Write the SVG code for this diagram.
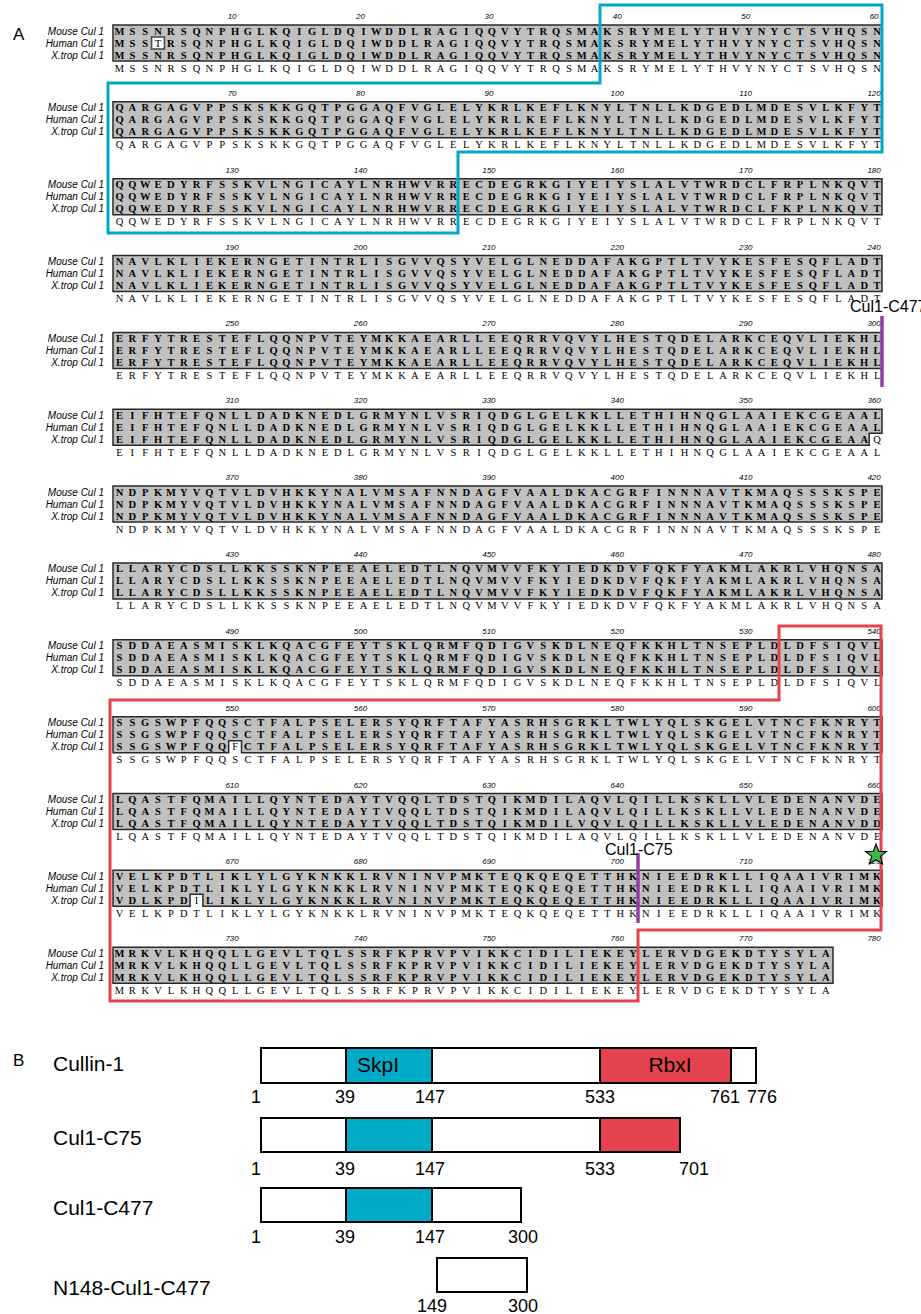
<svg xmlns="http://www.w3.org/2000/svg" width="921" height="1314" viewBox="0 0 921 1314">
<style>
.lbl{font:italic 10px "Liberation Sans",sans-serif;text-anchor:end}
.num{font:italic 8px "Liberation Sans",sans-serif;text-anchor:middle}
.res{font:bold 10.5px "Liberation Serif",serif;text-anchor:middle}
.con{font:10.5px "Liberation Serif",serif;text-anchor:middle}
.nb{font-weight:normal}
.box{fill:#c0c0c0;stroke:#2a2a2a;stroke-width:1.5}
.cell{fill:#fff;stroke:#444;stroke-width:1.5}
.cy{fill:none;stroke:#00a8c8;stroke-width:3}
.rd{fill:none;stroke:#e4444e;stroke-width:3}
.pu{stroke:#913d9e;stroke-width:3.5}
.big{font:17px "Liberation Sans",sans-serif}
.cap{font:16px "Liberation Sans",sans-serif}
.bl{font:21px "Liberation Sans",sans-serif}
.bn{font:18px "Liberation Sans",sans-serif;text-anchor:middle}
.bar{fill:#fff;stroke:#000;stroke-width:2}
.sk{fill:#00abc7;stroke:#000;stroke-width:2}
.rb{fill:#e4434d;stroke:#000;stroke-width:2}
</style>
<text x="13" y="40" class="big">A</text>

<g id="block1" transform="translate(0,0)">
<path class="box" d="M113,25H882V61H113Z"/>
<rect class="cell" x="151.6" y="37" width="12.8" height="12"/>
<text class="lbl" x="104" y="34.5">Mouse Cul 1</text><text class="lbl" x="104" y="46.5">Human Cul 1</text><text class="lbl" x="104" y="58.5">X.trop Cul 1</text>
<text class="num" y="19"><tspan x="232.1">10</tspan><tspan x="360.5">20</tspan><tspan x="488.9">30</tspan><tspan x="617.3">40</tspan><tspan x="745.7">50</tspan><tspan x="874.1">60</tspan></text>
<text class="res" y="34.5" x="119.5 132.3 145.2 158 170.9 183.7 196.5 209.4 222.2 235.1 247.9 260.7 273.6 286.4 299.3 312.1 324.9 337.8 350.6 363.5 376.3 389.1 402 414.8 427.7 440.5 453.3 466.2 479 491.9 504.7 517.5 530.4 543.2 556.1 568.9 581.7 594.6 607.4 620.3 633.1 645.9 658.8 671.6 684.5 697.3 710.1 723 735.8 748.7 761.5 774.3 787.2 800 812.9 825.7 838.5 851.4 864.2 877.1">MSSNRSQNPHGLKQIGLDQIWDDLRAGIQQVYTRQSMAKSRYMELYTHVYNYCTSVHQSN</text>
<text class="res" y="46.5" x="119.5 132.3 145.2 158 170.9 183.7 196.5 209.4 222.2 235.1 247.9 260.7 273.6 286.4 299.3 312.1 324.9 337.8 350.6 363.5 376.3 389.1 402 414.8 427.7 440.5 453.3 466.2 479 491.9 504.7 517.5 530.4 543.2 556.1 568.9 581.7 594.6 607.4 620.3 633.1 645.9 658.8 671.6 684.5 697.3 710.1 723 735.8 748.7 761.5 774.3 787.2 800 812.9 825.7 838.5 851.4 864.2 877.1">MSS<tspan class="nb">T</tspan>RSQNPHGLKQIGLDQIWDDLRAGIQQVYTRQSMAKSRYMELYTHVYNYCTSVHQSN</text>
<text class="res" y="58.5" x="119.5 132.3 145.2 158 170.9 183.7 196.5 209.4 222.2 235.1 247.9 260.7 273.6 286.4 299.3 312.1 324.9 337.8 350.6 363.5 376.3 389.1 402 414.8 427.7 440.5 453.3 466.2 479 491.9 504.7 517.5 530.4 543.2 556.1 568.9 581.7 594.6 607.4 620.3 633.1 645.9 658.8 671.6 684.5 697.3 710.1 723 735.8 748.7 761.5 774.3 787.2 800 812.9 825.7 838.5 851.4 864.2 877.1">MSSNRSQNPHGLKQIGLDQIWDDLRAGIQQVYTRQSMAKSRYMELYTHVYNYCTSVHQSN</text>
<text class="con" y="71.5" x="119.5 132.3 145.2 158 170.9 183.7 196.5 209.4 222.2 235.1 247.9 260.7 273.6 286.4 299.3 312.1 324.9 337.8 350.6 363.5 376.3 389.1 402 414.8 427.7 440.5 453.3 466.2 479 491.9 504.7 517.5 530.4 543.2 556.1 568.9 581.7 594.6 607.4 620.3 633.1 645.9 658.8 671.6 684.5 697.3 710.1 723 735.8 748.7 761.5 774.3 787.2 800 812.9 825.7 838.5 851.4 864.2 877.1">MSSNRSQNPHGLKQIGLDQIWDDLRAGIQQVYTRQSMAKSRYMELYTHVYNYCTSVHQSN</text>
</g>

<g id="block2" transform="translate(0,76.85)">
<path class="box" d="M113,25H882V61H113Z"/>
<text class="lbl" x="104" y="34.5">Mouse Cul 1</text><text class="lbl" x="104" y="46.5">Human Cul 1</text><text class="lbl" x="104" y="58.5">X.trop Cul 1</text>
<text class="num" y="19"><tspan x="232.1">70</tspan><tspan x="360.5">80</tspan><tspan x="488.9">90</tspan><tspan x="617.3">100</tspan><tspan x="745.7">110</tspan><tspan x="874.1">120</tspan></text>
<text class="res" y="34.5" x="119.5 132.3 145.2 158 170.9 183.7 196.5 209.4 222.2 235.1 247.9 260.7 273.6 286.4 299.3 312.1 324.9 337.8 350.6 363.5 376.3 389.1 402 414.8 427.7 440.5 453.3 466.2 479 491.9 504.7 517.5 530.4 543.2 556.1 568.9 581.7 594.6 607.4 620.3 633.1 645.9 658.8 671.6 684.5 697.3 710.1 723 735.8 748.7 761.5 774.3 787.2 800 812.9 825.7 838.5 851.4 864.2 877.1">QARGAGVPPSKSKKGQTPGGAQFVGLELYKRLKEFLKNYLTNLLKDGEDLMDESVLKFYT</text>
<text class="res" y="46.5" x="119.5 132.3 145.2 158 170.9 183.7 196.5 209.4 222.2 235.1 247.9 260.7 273.6 286.4 299.3 312.1 324.9 337.8 350.6 363.5 376.3 389.1 402 414.8 427.7 440.5 453.3 466.2 479 491.9 504.7 517.5 530.4 543.2 556.1 568.9 581.7 594.6 607.4 620.3 633.1 645.9 658.8 671.6 684.5 697.3 710.1 723 735.8 748.7 761.5 774.3 787.2 800 812.9 825.7 838.5 851.4 864.2 877.1">QARGAGVPPSKSKKGQTPGGAQFVGLELYKRLKEFLKNYLTNLLKDGEDLMDESVLKFYT</text>
<text class="res" y="58.5" x="119.5 132.3 145.2 158 170.9 183.7 196.5 209.4 222.2 235.1 247.9 260.7 273.6 286.4 299.3 312.1 324.9 337.8 350.6 363.5 376.3 389.1 402 414.8 427.7 440.5 453.3 466.2 479 491.9 504.7 517.5 530.4 543.2 556.1 568.9 581.7 594.6 607.4 620.3 633.1 645.9 658.8 671.6 684.5 697.3 710.1 723 735.8 748.7 761.5 774.3 787.2 800 812.9 825.7 838.5 851.4 864.2 877.1">QARGAGVPPSKSKKGQTPGGAQFVGLELYKRLKEFLKNYLTNLLKDGEDLMDESVLKFYT</text>
<text class="con" y="71.5" x="119.5 132.3 145.2 158 170.9 183.7 196.5 209.4 222.2 235.1 247.9 260.7 273.6 286.4 299.3 312.1 324.9 337.8 350.6 363.5 376.3 389.1 402 414.8 427.7 440.5 453.3 466.2 479 491.9 504.7 517.5 530.4 543.2 556.1 568.9 581.7 594.6 607.4 620.3 633.1 645.9 658.8 671.6 684.5 697.3 710.1 723 735.8 748.7 761.5 774.3 787.2 800 812.9 825.7 838.5 851.4 864.2 877.1">QARGAGVPPSKSKKGQTPGGAQFVGLELYKRLKEFLKNYLTNLLKDGEDLMDESVLKFYT</text>
</g>

<g id="block3" transform="translate(0,153.7)">
<path class="box" d="M113,25H882V61H113Z"/>
<text class="lbl" x="104" y="34.5">Mouse Cul 1</text><text class="lbl" x="104" y="46.5">Human Cul 1</text><text class="lbl" x="104" y="58.5">X.trop Cul 1</text>
<text class="num" y="19"><tspan x="232.1">130</tspan><tspan x="360.5">140</tspan><tspan x="488.9">150</tspan><tspan x="617.3">160</tspan><tspan x="745.7">170</tspan><tspan x="874.1">180</tspan></text>
<text class="res" y="34.5" x="119.5 132.3 145.2 158 170.9 183.7 196.5 209.4 222.2 235.1 247.9 260.7 273.6 286.4 299.3 312.1 324.9 337.8 350.6 363.5 376.3 389.1 402 414.8 427.7 440.5 453.3 466.2 479 491.9 504.7 517.5 530.4 543.2 556.1 568.9 581.7 594.6 607.4 620.3 633.1 645.9 658.8 671.6 684.5 697.3 710.1 723 735.8 748.7 761.5 774.3 787.2 800 812.9 825.7 838.5 851.4 864.2 877.1">QQWEDYRFSSKVLNGICAYLNRHWVRRECDEGRKGIYEIYSLALVTWRDCLFRPLNKQVT</text>
<text class="res" y="46.5" x="119.5 132.3 145.2 158 170.9 183.7 196.5 209.4 222.2 235.1 247.9 260.7 273.6 286.4 299.3 312.1 324.9 337.8 350.6 363.5 376.3 389.1 402 414.8 427.7 440.5 453.3 466.2 479 491.9 504.7 517.5 530.4 543.2 556.1 568.9 581.7 594.6 607.4 620.3 633.1 645.9 658.8 671.6 684.5 697.3 710.1 723 735.8 748.7 761.5 774.3 787.2 800 812.9 825.7 838.5 851.4 864.2 877.1">QQWEDYRFSSKVLNGICAYLNRHWVRRECDEGRKGIYEIYSLALVTWRDCLFRPLNKQVT</text>
<text class="res" y="58.5" x="119.5 132.3 145.2 158 170.9 183.7 196.5 209.4 222.2 235.1 247.9 260.7 273.6 286.4 299.3 312.1 324.9 337.8 350.6 363.5 376.3 389.1 402 414.8 427.7 440.5 453.3 466.2 479 491.9 504.7 517.5 530.4 543.2 556.1 568.9 581.7 594.6 607.4 620.3 633.1 645.9 658.8 671.6 684.5 697.3 710.1 723 735.8 748.7 761.5 774.3 787.2 800 812.9 825.7 838.5 851.4 864.2 877.1">QQWEDYRFSSKVLNGICAYLNRHWVRRECDEGRKGIYEIYSLALVTWRDCLFKPLNKQVT</text>
<text class="con" y="71.5" x="119.5 132.3 145.2 158 170.9 183.7 196.5 209.4 222.2 235.1 247.9 260.7 273.6 286.4 299.3 312.1 324.9 337.8 350.6 363.5 376.3 389.1 402 414.8 427.7 440.5 453.3 466.2 479 491.9 504.7 517.5 530.4 543.2 556.1 568.9 581.7 594.6 607.4 620.3 633.1 645.9 658.8 671.6 684.5 697.3 710.1 723 735.8 748.7 761.5 774.3 787.2 800 812.9 825.7 838.5 851.4 864.2 877.1">QQWEDYRFSSKVLNGICAYLNRHWVRRECDEGRKGIYEIYSLALVTWRDCLFRPLNKQVT</text>
</g>

<g id="block4" transform="translate(0,230.55)">
<path class="box" d="M113,25H882V61H113Z"/>
<text class="lbl" x="104" y="34.5">Mouse Cul 1</text><text class="lbl" x="104" y="46.5">Human Cul 1</text><text class="lbl" x="104" y="58.5">X.trop Cul 1</text>
<text class="num" y="19"><tspan x="232.1">190</tspan><tspan x="360.5">200</tspan><tspan x="488.9">210</tspan><tspan x="617.3">220</tspan><tspan x="745.7">230</tspan><tspan x="874.1">240</tspan></text>
<text class="res" y="34.5" x="119.5 132.3 145.2 158 170.9 183.7 196.5 209.4 222.2 235.1 247.9 260.7 273.6 286.4 299.3 312.1 324.9 337.8 350.6 363.5 376.3 389.1 402 414.8 427.7 440.5 453.3 466.2 479 491.9 504.7 517.5 530.4 543.2 556.1 568.9 581.7 594.6 607.4 620.3 633.1 645.9 658.8 671.6 684.5 697.3 710.1 723 735.8 748.7 761.5 774.3 787.2 800 812.9 825.7 838.5 851.4 864.2 877.1">NAVLKLIEKERNGETINTRLISGVVQSYVELGLNEDDAFAKGPTLTVYKESFESQFLADT</text>
<text class="res" y="46.5" x="119.5 132.3 145.2 158 170.9 183.7 196.5 209.4 222.2 235.1 247.9 260.7 273.6 286.4 299.3 312.1 324.9 337.8 350.6 363.5 376.3 389.1 402 414.8 427.7 440.5 453.3 466.2 479 491.9 504.7 517.5 530.4 543.2 556.1 568.9 581.7 594.6 607.4 620.3 633.1 645.9 658.8 671.6 684.5 697.3 710.1 723 735.8 748.7 761.5 774.3 787.2 800 812.9 825.7 838.5 851.4 864.2 877.1">NAVLKLIEKERNGETINTRLISGVVQSYVELGLNEDDAFAKGPTLTVYKESFESQFLADT</text>
<text class="res" y="58.5" x="119.5 132.3 145.2 158 170.9 183.7 196.5 209.4 222.2 235.1 247.9 260.7 273.6 286.4 299.3 312.1 324.9 337.8 350.6 363.5 376.3 389.1 402 414.8 427.7 440.5 453.3 466.2 479 491.9 504.7 517.5 530.4 543.2 556.1 568.9 581.7 594.6 607.4 620.3 633.1 645.9 658.8 671.6 684.5 697.3 710.1 723 735.8 748.7 761.5 774.3 787.2 800 812.9 825.7 838.5 851.4 864.2 877.1">NAVLKLIEKERNGETINTRLISGVVQSYVELGLNEDDAFAKGPTLTVYKESFESQFLADT</text>
<text class="con" y="71.5" x="119.5 132.3 145.2 158 170.9 183.7 196.5 209.4 222.2 235.1 247.9 260.7 273.6 286.4 299.3 312.1 324.9 337.8 350.6 363.5 376.3 389.1 402 414.8 427.7 440.5 453.3 466.2 479 491.9 504.7 517.5 530.4 543.2 556.1 568.9 581.7 594.6 607.4 620.3 633.1 645.9 658.8 671.6 684.5 697.3 710.1 723 735.8 748.7 761.5 774.3 787.2 800 812.9 825.7 838.5 851.4 864.2 877.1">NAVLKLIEKERNGETINTRLISGVVQSYVELGLNEDDAFAKGPTLTVYKESFESQFLADT</text>
</g>

<g id="block5" transform="translate(0,307.4)">
<path class="box" d="M113,25H882V61H113Z"/>
<text class="lbl" x="104" y="34.5">Mouse Cul 1</text><text class="lbl" x="104" y="46.5">Human Cul 1</text><text class="lbl" x="104" y="58.5">X.trop Cul 1</text>
<text class="num" y="19"><tspan x="232.1">250</tspan><tspan x="360.5">260</tspan><tspan x="488.9">270</tspan><tspan x="617.3">280</tspan><tspan x="745.7">290</tspan><tspan x="874.1">300</tspan></text>
<text class="res" y="34.5" x="119.5 132.3 145.2 158 170.9 183.7 196.5 209.4 222.2 235.1 247.9 260.7 273.6 286.4 299.3 312.1 324.9 337.8 350.6 363.5 376.3 389.1 402 414.8 427.7 440.5 453.3 466.2 479 491.9 504.7 517.5 530.4 543.2 556.1 568.9 581.7 594.6 607.4 620.3 633.1 645.9 658.8 671.6 684.5 697.3 710.1 723 735.8 748.7 761.5 774.3 787.2 800 812.9 825.7 838.5 851.4 864.2 877.1">ERFYTRESTEFLQQNPVTEYMKKAEARLLEEQRRVQVYLHESTQDELARKCEQVLIEKHL</text>
<text class="res" y="46.5" x="119.5 132.3 145.2 158 170.9 183.7 196.5 209.4 222.2 235.1 247.9 260.7 273.6 286.4 299.3 312.1 324.9 337.8 350.6 363.5 376.3 389.1 402 414.8 427.7 440.5 453.3 466.2 479 491.9 504.7 517.5 530.4 543.2 556.1 568.9 581.7 594.6 607.4 620.3 633.1 645.9 658.8 671.6 684.5 697.3 710.1 723 735.8 748.7 761.5 774.3 787.2 800 812.9 825.7 838.5 851.4 864.2 877.1">ERFYTRESTEFLQQNPVTEYMKKAEARLLEEQRRVQVYLHESTQDELARKCEQVLIEKHL</text>
<text class="res" y="58.5" x="119.5 132.3 145.2 158 170.9 183.7 196.5 209.4 222.2 235.1 247.9 260.7 273.6 286.4 299.3 312.1 324.9 337.8 350.6 363.5 376.3 389.1 402 414.8 427.7 440.5 453.3 466.2 479 491.9 504.7 517.5 530.4 543.2 556.1 568.9 581.7 594.6 607.4 620.3 633.1 645.9 658.8 671.6 684.5 697.3 710.1 723 735.8 748.7 761.5 774.3 787.2 800 812.9 825.7 838.5 851.4 864.2 877.1">ERFYTRESTEFLQQNPVTEYMKKAEARLLEEQRRVQVYLHESTQDELARKCEQVLIEKHL</text>
<text class="con" y="71.5" x="119.5 132.3 145.2 158 170.9 183.7 196.5 209.4 222.2 235.1 247.9 260.7 273.6 286.4 299.3 312.1 324.9 337.8 350.6 363.5 376.3 389.1 402 414.8 427.7 440.5 453.3 466.2 479 491.9 504.7 517.5 530.4 543.2 556.1 568.9 581.7 594.6 607.4 620.3 633.1 645.9 658.8 671.6 684.5 697.3 710.1 723 735.8 748.7 761.5 774.3 787.2 800 812.9 825.7 838.5 851.4 864.2 877.1">ERFYTRESTEFLQQNPVTEYMKKAEARLLEEQRRVQVYLHESTQDELARKCEQVLIEKHL</text>
</g>

<g id="block6" transform="translate(0,384.25)">
<path class="box" d="M113,25H882V49H869.2V61H113Z"/>
<text class="lbl" x="104" y="34.5">Mouse Cul 1</text><text class="lbl" x="104" y="46.5">Human Cul 1</text><text class="lbl" x="104" y="58.5">X.trop Cul 1</text>
<text class="num" y="19"><tspan x="232.1">310</tspan><tspan x="360.5">320</tspan><tspan x="488.9">330</tspan><tspan x="617.3">340</tspan><tspan x="745.7">350</tspan><tspan x="874.1">360</tspan></text>
<text class="res" y="34.5" x="119.5 132.3 145.2 158 170.9 183.7 196.5 209.4 222.2 235.1 247.9 260.7 273.6 286.4 299.3 312.1 324.9 337.8 350.6 363.5 376.3 389.1 402 414.8 427.7 440.5 453.3 466.2 479 491.9 504.7 517.5 530.4 543.2 556.1 568.9 581.7 594.6 607.4 620.3 633.1 645.9 658.8 671.6 684.5 697.3 710.1 723 735.8 748.7 761.5 774.3 787.2 800 812.9 825.7 838.5 851.4 864.2 877.1">EIFHTEFQNLLDADKNEDLGRMYNLVSRIQDGLGELKKLLETHIHNQGLAAIEKCGEAAL</text>
<text class="res" y="46.5" x="119.5 132.3 145.2 158 170.9 183.7 196.5 209.4 222.2 235.1 247.9 260.7 273.6 286.4 299.3 312.1 324.9 337.8 350.6 363.5 376.3 389.1 402 414.8 427.7 440.5 453.3 466.2 479 491.9 504.7 517.5 530.4 543.2 556.1 568.9 581.7 594.6 607.4 620.3 633.1 645.9 658.8 671.6 684.5 697.3 710.1 723 735.8 748.7 761.5 774.3 787.2 800 812.9 825.7 838.5 851.4 864.2 877.1">EIFHTEFQNLLDADKNEDLGRMYNLVSRIQDGLGELKKLLETHIHNQGLAAIEKCGEAAL</text>
<text class="res" y="58.5" x="119.5 132.3 145.2 158 170.9 183.7 196.5 209.4 222.2 235.1 247.9 260.7 273.6 286.4 299.3 312.1 324.9 337.8 350.6 363.5 376.3 389.1 402 414.8 427.7 440.5 453.3 466.2 479 491.9 504.7 517.5 530.4 543.2 556.1 568.9 581.7 594.6 607.4 620.3 633.1 645.9 658.8 671.6 684.5 697.3 710.1 723 735.8 748.7 761.5 774.3 787.2 800 812.9 825.7 838.5 851.4 864.2 877.1">EIFHTEFQNLLDADKNEDLGRMYNLVSRIQDGLGELKKLLETHIHNQGLAAIEKCGEAA<tspan class="nb">Q</tspan></text>
<text class="con" y="71.5" x="119.5 132.3 145.2 158 170.9 183.7 196.5 209.4 222.2 235.1 247.9 260.7 273.6 286.4 299.3 312.1 324.9 337.8 350.6 363.5 376.3 389.1 402 414.8 427.7 440.5 453.3 466.2 479 491.9 504.7 517.5 530.4 543.2 556.1 568.9 581.7 594.6 607.4 620.3 633.1 645.9 658.8 671.6 684.5 697.3 710.1 723 735.8 748.7 761.5 774.3 787.2 800 812.9 825.7 838.5 851.4 864.2 877.1">EIFHTEFQNLLDADKNEDLGRMYNLVSRIQDGLGELKKLLETHIHNQGLAAIEKCGEAAL</text>
</g>

<g id="block7" transform="translate(0,461.1)">
<path class="box" d="M113,25H882V61H113Z"/>
<text class="lbl" x="104" y="34.5">Mouse Cul 1</text><text class="lbl" x="104" y="46.5">Human Cul 1</text><text class="lbl" x="104" y="58.5">X.trop Cul 1</text>
<text class="num" y="19"><tspan x="232.1">370</tspan><tspan x="360.5">380</tspan><tspan x="488.9">390</tspan><tspan x="617.3">400</tspan><tspan x="745.7">410</tspan><tspan x="874.1">420</tspan></text>
<text class="res" y="34.5" x="119.5 132.3 145.2 158 170.9 183.7 196.5 209.4 222.2 235.1 247.9 260.7 273.6 286.4 299.3 312.1 324.9 337.8 350.6 363.5 376.3 389.1 402 414.8 427.7 440.5 453.3 466.2 479 491.9 504.7 517.5 530.4 543.2 556.1 568.9 581.7 594.6 607.4 620.3 633.1 645.9 658.8 671.6 684.5 697.3 710.1 723 735.8 748.7 761.5 774.3 787.2 800 812.9 825.7 838.5 851.4 864.2 877.1">NDPKMYVQTVLDVHKKYNALVMSAFNNDAGFVAALDKACGRFINNNAVTKMAQSSSKSPE</text>
<text class="res" y="46.5" x="119.5 132.3 145.2 158 170.9 183.7 196.5 209.4 222.2 235.1 247.9 260.7 273.6 286.4 299.3 312.1 324.9 337.8 350.6 363.5 376.3 389.1 402 414.8 427.7 440.5 453.3 466.2 479 491.9 504.7 517.5 530.4 543.2 556.1 568.9 581.7 594.6 607.4 620.3 633.1 645.9 658.8 671.6 684.5 697.3 710.1 723 735.8 748.7 761.5 774.3 787.2 800 812.9 825.7 838.5 851.4 864.2 877.1">NDPKMYVQTVLDVHKKYNALVMSAFNNDAGFVAALDKACGRFINNNAVTKMAQSSSKSPE</text>
<text class="res" y="58.5" x="119.5 132.3 145.2 158 170.9 183.7 196.5 209.4 222.2 235.1 247.9 260.7 273.6 286.4 299.3 312.1 324.9 337.8 350.6 363.5 376.3 389.1 402 414.8 427.7 440.5 453.3 466.2 479 491.9 504.7 517.5 530.4 543.2 556.1 568.9 581.7 594.6 607.4 620.3 633.1 645.9 658.8 671.6 684.5 697.3 710.1 723 735.8 748.7 761.5 774.3 787.2 800 812.9 825.7 838.5 851.4 864.2 877.1">NDPKMYVQTVLDVHKKYNALVMSAFNNDAGFVAALDKACGRFINNNAVTKMAQSSSKSPE</text>
<text class="con" y="71.5" x="119.5 132.3 145.2 158 170.9 183.7 196.5 209.4 222.2 235.1 247.9 260.7 273.6 286.4 299.3 312.1 324.9 337.8 350.6 363.5 376.3 389.1 402 414.8 427.7 440.5 453.3 466.2 479 491.9 504.7 517.5 530.4 543.2 556.1 568.9 581.7 594.6 607.4 620.3 633.1 645.9 658.8 671.6 684.5 697.3 710.1 723 735.8 748.7 761.5 774.3 787.2 800 812.9 825.7 838.5 851.4 864.2 877.1">NDPKMYVQTVLDVHKKYNALVMSAFNNDAGFVAALDKACGRFINNNAVTKMAQSSSKSPE</text>
</g>

<g id="block8" transform="translate(0,537.95)">
<path class="box" d="M113,25H882V61H113Z"/>
<text class="lbl" x="104" y="34.5">Mouse Cul 1</text><text class="lbl" x="104" y="46.5">Human Cul 1</text><text class="lbl" x="104" y="58.5">X.trop Cul 1</text>
<text class="num" y="19"><tspan x="232.1">430</tspan><tspan x="360.5">440</tspan><tspan x="488.9">450</tspan><tspan x="617.3">460</tspan><tspan x="745.7">470</tspan><tspan x="874.1">480</tspan></text>
<text class="res" y="34.5" x="119.5 132.3 145.2 158 170.9 183.7 196.5 209.4 222.2 235.1 247.9 260.7 273.6 286.4 299.3 312.1 324.9 337.8 350.6 363.5 376.3 389.1 402 414.8 427.7 440.5 453.3 466.2 479 491.9 504.7 517.5 530.4 543.2 556.1 568.9 581.7 594.6 607.4 620.3 633.1 645.9 658.8 671.6 684.5 697.3 710.1 723 735.8 748.7 761.5 774.3 787.2 800 812.9 825.7 838.5 851.4 864.2 877.1">LLARYCDSLLKKSSKNPEEAELEDTLNQVMVVFKYIEDKDVFQKFYAKMLAKRLVHQNSA</text>
<text class="res" y="46.5" x="119.5 132.3 145.2 158 170.9 183.7 196.5 209.4 222.2 235.1 247.9 260.7 273.6 286.4 299.3 312.1 324.9 337.8 350.6 363.5 376.3 389.1 402 414.8 427.7 440.5 453.3 466.2 479 491.9 504.7 517.5 530.4 543.2 556.1 568.9 581.7 594.6 607.4 620.3 633.1 645.9 658.8 671.6 684.5 697.3 710.1 723 735.8 748.7 761.5 774.3 787.2 800 812.9 825.7 838.5 851.4 864.2 877.1">LLARYCDSLLKKSSKNPEEAELEDTLNQVMVVFKYIEDKDVFQKFYAKMLAKRLVHQNSA</text>
<text class="res" y="58.5" x="119.5 132.3 145.2 158 170.9 183.7 196.5 209.4 222.2 235.1 247.9 260.7 273.6 286.4 299.3 312.1 324.9 337.8 350.6 363.5 376.3 389.1 402 414.8 427.7 440.5 453.3 466.2 479 491.9 504.7 517.5 530.4 543.2 556.1 568.9 581.7 594.6 607.4 620.3 633.1 645.9 658.8 671.6 684.5 697.3 710.1 723 735.8 748.7 761.5 774.3 787.2 800 812.9 825.7 838.5 851.4 864.2 877.1">LLARYCDSLLKKSSKNPEEAELEDTLNQVMVVFKYIEDKDVFQKFYAKMLAKRLVHQNSA</text>
<text class="con" y="71.5" x="119.5 132.3 145.2 158 170.9 183.7 196.5 209.4 222.2 235.1 247.9 260.7 273.6 286.4 299.3 312.1 324.9 337.8 350.6 363.5 376.3 389.1 402 414.8 427.7 440.5 453.3 466.2 479 491.9 504.7 517.5 530.4 543.2 556.1 568.9 581.7 594.6 607.4 620.3 633.1 645.9 658.8 671.6 684.5 697.3 710.1 723 735.8 748.7 761.5 774.3 787.2 800 812.9 825.7 838.5 851.4 864.2 877.1">LLARYCDSLLKKSSKNPEEAELEDTLNQVMVVFKYIEDKDVFQKFYAKMLAKRLVHQNSA</text>
</g>

<g id="block9" transform="translate(0,614.8)">
<path class="box" d="M113,25H882V61H113Z"/>
<text class="lbl" x="104" y="34.5">Mouse Cul 1</text><text class="lbl" x="104" y="46.5">Human Cul 1</text><text class="lbl" x="104" y="58.5">X.trop Cul 1</text>
<text class="num" y="19"><tspan x="232.1">490</tspan><tspan x="360.5">500</tspan><tspan x="488.9">510</tspan><tspan x="617.3">520</tspan><tspan x="745.7">530</tspan><tspan x="874.1">540</tspan></text>
<text class="res" y="34.5" x="119.5 132.3 145.2 158 170.9 183.7 196.5 209.4 222.2 235.1 247.9 260.7 273.6 286.4 299.3 312.1 324.9 337.8 350.6 363.5 376.3 389.1 402 414.8 427.7 440.5 453.3 466.2 479 491.9 504.7 517.5 530.4 543.2 556.1 568.9 581.7 594.6 607.4 620.3 633.1 645.9 658.8 671.6 684.5 697.3 710.1 723 735.8 748.7 761.5 774.3 787.2 800 812.9 825.7 838.5 851.4 864.2 877.1">SDDAEASMISKLKQACGFEYTSKLQRMFQDIGVSKDLNEQFKKHLTNSEPLDLDFSIQVL</text>
<text class="res" y="46.5" x="119.5 132.3 145.2 158 170.9 183.7 196.5 209.4 222.2 235.1 247.9 260.7 273.6 286.4 299.3 312.1 324.9 337.8 350.6 363.5 376.3 389.1 402 414.8 427.7 440.5 453.3 466.2 479 491.9 504.7 517.5 530.4 543.2 556.1 568.9 581.7 594.6 607.4 620.3 633.1 645.9 658.8 671.6 684.5 697.3 710.1 723 735.8 748.7 761.5 774.3 787.2 800 812.9 825.7 838.5 851.4 864.2 877.1">SDDAEASMISKLKQACGFEYTSKLQRMFQDIGVSKDLNEQFKKHLTNSEPLDLDFSIQVL</text>
<text class="res" y="58.5" x="119.5 132.3 145.2 158 170.9 183.7 196.5 209.4 222.2 235.1 247.9 260.7 273.6 286.4 299.3 312.1 324.9 337.8 350.6 363.5 376.3 389.1 402 414.8 427.7 440.5 453.3 466.2 479 491.9 504.7 517.5 530.4 543.2 556.1 568.9 581.7 594.6 607.4 620.3 633.1 645.9 658.8 671.6 684.5 697.3 710.1 723 735.8 748.7 761.5 774.3 787.2 800 812.9 825.7 838.5 851.4 864.2 877.1">SDDAEASMISKLKQACGFEYTSKLQRMFQDIGVSKDLNEQFKKHLTNSEPLDLDFSIQVL</text>
<text class="con" y="71.5" x="119.5 132.3 145.2 158 170.9 183.7 196.5 209.4 222.2 235.1 247.9 260.7 273.6 286.4 299.3 312.1 324.9 337.8 350.6 363.5 376.3 389.1 402 414.8 427.7 440.5 453.3 466.2 479 491.9 504.7 517.5 530.4 543.2 556.1 568.9 581.7 594.6 607.4 620.3 633.1 645.9 658.8 671.6 684.5 697.3 710.1 723 735.8 748.7 761.5 774.3 787.2 800 812.9 825.7 838.5 851.4 864.2 877.1">SDDAEASMISKLKQACGFEYTSKLQRMFQDIGVSKDLNEQFKKHLTNSEPLDLDFSIQVL</text>
</g>

<g id="block10" transform="translate(0,691.65)">
<path class="box" d="M113,25H882V61H241.5V49H228.7V61H113Z"/>
<text class="lbl" x="104" y="34.5">Mouse Cul 1</text><text class="lbl" x="104" y="46.5">Human Cul 1</text><text class="lbl" x="104" y="58.5">X.trop Cul 1</text>
<text class="num" y="19"><tspan x="232.1">550</tspan><tspan x="360.5">560</tspan><tspan x="488.9">570</tspan><tspan x="617.3">580</tspan><tspan x="745.7">590</tspan><tspan x="874.1">600</tspan></text>
<text class="res" y="34.5" x="119.5 132.3 145.2 158 170.9 183.7 196.5 209.4 222.2 235.1 247.9 260.7 273.6 286.4 299.3 312.1 324.9 337.8 350.6 363.5 376.3 389.1 402 414.8 427.7 440.5 453.3 466.2 479 491.9 504.7 517.5 530.4 543.2 556.1 568.9 581.7 594.6 607.4 620.3 633.1 645.9 658.8 671.6 684.5 697.3 710.1 723 735.8 748.7 761.5 774.3 787.2 800 812.9 825.7 838.5 851.4 864.2 877.1">SSGSWPFQQSCTFALPSELERSYQRFTAFYASRHSGRKLTWLYQLSKGELVTNCFKNRYT</text>
<text class="res" y="46.5" x="119.5 132.3 145.2 158 170.9 183.7 196.5 209.4 222.2 235.1 247.9 260.7 273.6 286.4 299.3 312.1 324.9 337.8 350.6 363.5 376.3 389.1 402 414.8 427.7 440.5 453.3 466.2 479 491.9 504.7 517.5 530.4 543.2 556.1 568.9 581.7 594.6 607.4 620.3 633.1 645.9 658.8 671.6 684.5 697.3 710.1 723 735.8 748.7 761.5 774.3 787.2 800 812.9 825.7 838.5 851.4 864.2 877.1">SSGSWPFQQSCTFALPSELERSYQRFTAFYASRHSGRKLTWLYQLSKGELVTNCFKNRYT</text>
<text class="res" y="58.5" x="119.5 132.3 145.2 158 170.9 183.7 196.5 209.4 222.2 235.1 247.9 260.7 273.6 286.4 299.3 312.1 324.9 337.8 350.6 363.5 376.3 389.1 402 414.8 427.7 440.5 453.3 466.2 479 491.9 504.7 517.5 530.4 543.2 556.1 568.9 581.7 594.6 607.4 620.3 633.1 645.9 658.8 671.6 684.5 697.3 710.1 723 735.8 748.7 761.5 774.3 787.2 800 812.9 825.7 838.5 851.4 864.2 877.1">SSGSWPFQQ<tspan class="nb">F</tspan>CTFALPSELERSYQRFTAFYASRHSGRKLTWLYQLSKGELVTNCFKNRYT</text>
<text class="con" y="71.5" x="119.5 132.3 145.2 158 170.9 183.7 196.5 209.4 222.2 235.1 247.9 260.7 273.6 286.4 299.3 312.1 324.9 337.8 350.6 363.5 376.3 389.1 402 414.8 427.7 440.5 453.3 466.2 479 491.9 504.7 517.5 530.4 543.2 556.1 568.9 581.7 594.6 607.4 620.3 633.1 645.9 658.8 671.6 684.5 697.3 710.1 723 735.8 748.7 761.5 774.3 787.2 800 812.9 825.7 838.5 851.4 864.2 877.1">SSGSWPFQQSCTFALPSELERSYQRFTAFYASRHSGRKLTWLYQLSKGELVTNCFKNRYT</text>
</g>

<g id="block11" transform="translate(0,768.5)">
<path class="box" d="M113,25H882V61H113Z"/>
<text class="lbl" x="104" y="34.5">Mouse Cul 1</text><text class="lbl" x="104" y="46.5">Human Cul 1</text><text class="lbl" x="104" y="58.5">X.trop Cul 1</text>
<text class="num" y="19"><tspan x="232.1">610</tspan><tspan x="360.5">620</tspan><tspan x="488.9">630</tspan><tspan x="617.3">640</tspan><tspan x="745.7">650</tspan><tspan x="874.1">660</tspan></text>
<text class="res" y="34.5" x="119.5 132.3 145.2 158 170.9 183.7 196.5 209.4 222.2 235.1 247.9 260.7 273.6 286.4 299.3 312.1 324.9 337.8 350.6 363.5 376.3 389.1 402 414.8 427.7 440.5 453.3 466.2 479 491.9 504.7 517.5 530.4 543.2 556.1 568.9 581.7 594.6 607.4 620.3 633.1 645.9 658.8 671.6 684.5 697.3 710.1 723 735.8 748.7 761.5 774.3 787.2 800 812.9 825.7 838.5 851.4 864.2 877.1">LQASTFQMAILLQYNTEDAYTVQQLTDSTQIKMDILAQVLQILLKSKLLVLEDENANVDE</text>
<text class="res" y="46.5" x="119.5 132.3 145.2 158 170.9 183.7 196.5 209.4 222.2 235.1 247.9 260.7 273.6 286.4 299.3 312.1 324.9 337.8 350.6 363.5 376.3 389.1 402 414.8 427.7 440.5 453.3 466.2 479 491.9 504.7 517.5 530.4 543.2 556.1 568.9 581.7 594.6 607.4 620.3 633.1 645.9 658.8 671.6 684.5 697.3 710.1 723 735.8 748.7 761.5 774.3 787.2 800 812.9 825.7 838.5 851.4 864.2 877.1">LQASTFQMAILLQYNTEDAYTVQQLTDSTQIKMDILAQVLQILLKSKLLVLEDENANVDE</text>
<text class="res" y="58.5" x="119.5 132.3 145.2 158 170.9 183.7 196.5 209.4 222.2 235.1 247.9 260.7 273.6 286.4 299.3 312.1 324.9 337.8 350.6 363.5 376.3 389.1 402 414.8 427.7 440.5 453.3 466.2 479 491.9 504.7 517.5 530.4 543.2 556.1 568.9 581.7 594.6 607.4 620.3 633.1 645.9 658.8 671.6 684.5 697.3 710.1 723 735.8 748.7 761.5 774.3 787.2 800 812.9 825.7 838.5 851.4 864.2 877.1">LQASTFQMAILLQYNTEDAYTVQQLTDSTQIKMDILVQVLQILLKSKLLVLEDENANVDD</text>
<text class="con" y="71.5" x="119.5 132.3 145.2 158 170.9 183.7 196.5 209.4 222.2 235.1 247.9 260.7 273.6 286.4 299.3 312.1 324.9 337.8 350.6 363.5 376.3 389.1 402 414.8 427.7 440.5 453.3 466.2 479 491.9 504.7 517.5 530.4 543.2 556.1 568.9 581.7 594.6 607.4 620.3 633.1 645.9 658.8 671.6 684.5 697.3 710.1 723 735.8 748.7 761.5 774.3 787.2 800 812.9 825.7 838.5 851.4 864.2 877.1">LQASTFQMAILLQYNTEDAYTVQQLTDSTQIKMDILAQVLQILLKSKLLVLEDENANVDE</text>
</g>

<g id="block12" transform="translate(0,845.35)">
<path class="box" d="M113,25H882V61H202.9V49H190.1V61H113Z"/>
<text class="lbl" x="104" y="34.5">Mouse Cul 1</text><text class="lbl" x="104" y="46.5">Human Cul 1</text><text class="lbl" x="104" y="58.5">X.trop Cul 1</text>
<text class="num" y="19"><tspan x="232.1">670</tspan><tspan x="360.5">680</tspan><tspan x="488.9">690</tspan><tspan x="617.3">700</tspan><tspan x="745.7">710</tspan><tspan x="874.1">720</tspan></text>
<text class="res" y="34.5" x="119.5 132.3 145.2 158 170.9 183.7 196.5 209.4 222.2 235.1 247.9 260.7 273.6 286.4 299.3 312.1 324.9 337.8 350.6 363.5 376.3 389.1 402 414.8 427.7 440.5 453.3 466.2 479 491.9 504.7 517.5 530.4 543.2 556.1 568.9 581.7 594.6 607.4 620.3 633.1 645.9 658.8 671.6 684.5 697.3 710.1 723 735.8 748.7 761.5 774.3 787.2 800 812.9 825.7 838.5 851.4 864.2 877.1">VELKPDTLIKLYLGYKNKKLRVNINVPMKTEQKQEQETTHKNIEEDRKLLIQAAIVRIMK</text>
<text class="res" y="46.5" x="119.5 132.3 145.2 158 170.9 183.7 196.5 209.4 222.2 235.1 247.9 260.7 273.6 286.4 299.3 312.1 324.9 337.8 350.6 363.5 376.3 389.1 402 414.8 427.7 440.5 453.3 466.2 479 491.9 504.7 517.5 530.4 543.2 556.1 568.9 581.7 594.6 607.4 620.3 633.1 645.9 658.8 671.6 684.5 697.3 710.1 723 735.8 748.7 761.5 774.3 787.2 800 812.9 825.7 838.5 851.4 864.2 877.1">VELKPDTLIKLYLGYKNKKLRVNINVPMKTEQKQEQETTHKNIEEDRKLLIQAAIVRIMK</text>
<text class="res" y="58.5" x="119.5 132.3 145.2 158 170.9 183.7 196.5 209.4 222.2 235.1 247.9 260.7 273.6 286.4 299.3 312.1 324.9 337.8 350.6 363.5 376.3 389.1 402 414.8 427.7 440.5 453.3 466.2 479 491.9 504.7 517.5 530.4 543.2 556.1 568.9 581.7 594.6 607.4 620.3 633.1 645.9 658.8 671.6 684.5 697.3 710.1 723 735.8 748.7 761.5 774.3 787.2 800 812.9 825.7 838.5 851.4 864.2 877.1">VDLKPD<tspan class="nb">I</tspan>LIKLYLGYKNKKLRVNINVPMKTEQKQEQETTHKNIEEDRKLLIQAAIVRIMK</text>
<text class="con" y="71.5" x="119.5 132.3 145.2 158 170.9 183.7 196.5 209.4 222.2 235.1 247.9 260.7 273.6 286.4 299.3 312.1 324.9 337.8 350.6 363.5 376.3 389.1 402 414.8 427.7 440.5 453.3 466.2 479 491.9 504.7 517.5 530.4 543.2 556.1 568.9 581.7 594.6 607.4 620.3 633.1 645.9 658.8 671.6 684.5 697.3 710.1 723 735.8 748.7 761.5 774.3 787.2 800 812.9 825.7 838.5 851.4 864.2 877.1">VELKPDTLIKLYLGYKNKKLRVNINVPMKTEQKQEQETTHKNIEEDRKLLIQAAIVRIMK</text>
</g>

<g id="block13" transform="translate(0,922.2)">
<path class="box" d="M113,25H833V61H113Z"/>
<text class="lbl" x="104" y="34.5">Mouse Cul 1</text><text class="lbl" x="104" y="46.5">Human Cul 1</text><text class="lbl" x="104" y="58.5">X.trop Cul 1</text>
<text class="num" y="19"><tspan x="232.1">730</tspan><tspan x="360.5">740</tspan><tspan x="488.9">750</tspan><tspan x="617.3">760</tspan><tspan x="745.7">770</tspan><tspan x="874.1">780</tspan></text>
<text class="res" y="34.5" x="119.5 132.3 145.2 158 170.9 183.7 196.5 209.4 222.2 235.1 247.9 260.7 273.6 286.4 299.3 312.1 324.9 337.8 350.6 363.5 376.3 389.1 402 414.8 427.7 440.5 453.3 466.2 479 491.9 504.7 517.5 530.4 543.2 556.1 568.9 581.7 594.6 607.4 620.3 633.1 645.9 658.8 671.6 684.5 697.3 710.1 723 735.8 748.7 761.5 774.3 787.2 800 812.9 825.7">MRKVLKHQQLLGEVLTQLSSRFKPRVPVIKKCIDILIEKEYLERVDGEKDTYSYLA</text>
<text class="res" y="46.5" x="119.5 132.3 145.2 158 170.9 183.7 196.5 209.4 222.2 235.1 247.9 260.7 273.6 286.4 299.3 312.1 324.9 337.8 350.6 363.5 376.3 389.1 402 414.8 427.7 440.5 453.3 466.2 479 491.9 504.7 517.5 530.4 543.2 556.1 568.9 581.7 594.6 607.4 620.3 633.1 645.9 658.8 671.6 684.5 697.3 710.1 723 735.8 748.7 761.5 774.3 787.2 800 812.9 825.7">MRKVLKHQQLLGEVLTQLSSRFKPRVPVIKKCIDILIEKEYLERVDGEKDTYSYLA</text>
<text class="res" y="58.5" x="119.5 132.3 145.2 158 170.9 183.7 196.5 209.4 222.2 235.1 247.9 260.7 273.6 286.4 299.3 312.1 324.9 337.8 350.6 363.5 376.3 389.1 402 414.8 427.7 440.5 453.3 466.2 479 491.9 504.7 517.5 530.4 543.2 556.1 568.9 581.7 594.6 607.4 620.3 633.1 645.9 658.8 671.6 684.5 697.3 710.1 723 735.8 748.7 761.5 774.3 787.2 800 812.9 825.7">MRKVLKHQQLLGEVLTQLSSRFKPRVPVIKKCIDILIEKEYLERVDGEKDTYSYLA</text>
<text class="con" y="71.5" x="119.5 132.3 145.2 158 170.9 183.7 196.5 209.4 222.2 235.1 247.9 260.7 273.6 286.4 299.3 312.1 324.9 337.8 350.6 363.5 376.3 389.1 402 414.8 427.7 440.5 453.3 466.2 479 491.9 504.7 517.5 530.4 543.2 556.1 568.9 581.7 594.6 607.4 620.3 633.1 645.9 658.8 671.6 684.5 697.3 710.1 723 735.8 748.7 761.5 774.3 787.2 800 812.9 825.7">MRKVLKHQQLLGEVLTQLSSRFKPRVPVIKKCIDILIEKEYLERVDGEKDTYSYLA</text>
</g>

<g id="connectors">
<path id="skp1-region" class="cy" d="M600,5H882V152H458V233H108V83H600Z"/>
<path id="rbx1-region" class="rd" d="M779,626H881V930H638V1001H110V700H779Z"/>
<line id="c477-cut" class="pu" x1="882" y1="316" x2="882" y2="387"/>
<line id="c75-cut" class="pu" x1="638" y1="853" x2="638" y2="923"/>
</g>
<g id="label-c477"><text class="cap" x="850" y="312">Cul1-C477</text></g>
<g id="label-c75"><text class="cap" x="605" y="855">Cul1-C75</text></g>
<g id="star"><polygon transform="translate(876,855) scale(1.1)" points="0,-10 2.47,-3.4 9.51,-3.09 3.99,1.3 5.88,8.09 0,4.2 -5.88,8.09 -3.99,1.3 -9.51,-3.09 -2.47,-3.4" fill="#3db54a" stroke="#000" stroke-width="1"/></g>

<text x="13" y="1066" class="big">B</text>
<g id="cullin1">
<text class="bl" x="53" y="1071">Cullin-1</text>
<rect class="bar" x="261" y="1048" width="495" height="35"/>
<rect class="sk" x="346" y="1048" width="86" height="35"/>
<rect class="rb" x="600" y="1048" width="131" height="35"/>
<text class="bl" x="378" y="1072" text-anchor="middle">SkpI</text>
<text class="bl" x="670" y="1072" text-anchor="middle">RbxI</text>
<text class="bn" y="1103"><tspan x="256">1</tspan><tspan x="345">39</tspan><tspan x="430">147</tspan><tspan x="600">533</tspan><tspan x="725">761</tspan><tspan x="762">776</tspan></text>
</g>
<g id="cul1-c75">
<text class="bl" x="53" y="1145">Cul1-C75</text>
<rect class="bar" x="261" y="1118" width="419" height="34"/>
<rect class="sk" x="346" y="1118" width="86" height="34"/>
<rect class="rb" x="600" y="1118" width="80" height="34"/>
<text class="bn" y="1175"><tspan x="256">1</tspan><tspan x="345">39</tspan><tspan x="430">147</tspan><tspan x="600">533</tspan><tspan x="694">701</tspan></text>
</g>
<g id="cul1-c477">
<text class="bl" x="53" y="1215">Cul1-C477</text>
<rect class="bar" x="261" y="1188" width="260" height="34"/>
<rect class="sk" x="346" y="1188" width="86" height="34"/>
<text class="bn" y="1243"><tspan x="256">1</tspan><tspan x="345">39</tspan><tspan x="430">147</tspan><tspan x="523">300</tspan></text>
</g>
<g id="n148-cul1-c477">
<text class="bl" x="53" y="1295">N148-Cul1-C477</text>
<rect class="bar" x="437" y="1258" width="90" height="34"/>
<text class="bn" y="1312"><tspan x="432">149</tspan><tspan x="523">300</tspan></text>
</g>
</svg>
